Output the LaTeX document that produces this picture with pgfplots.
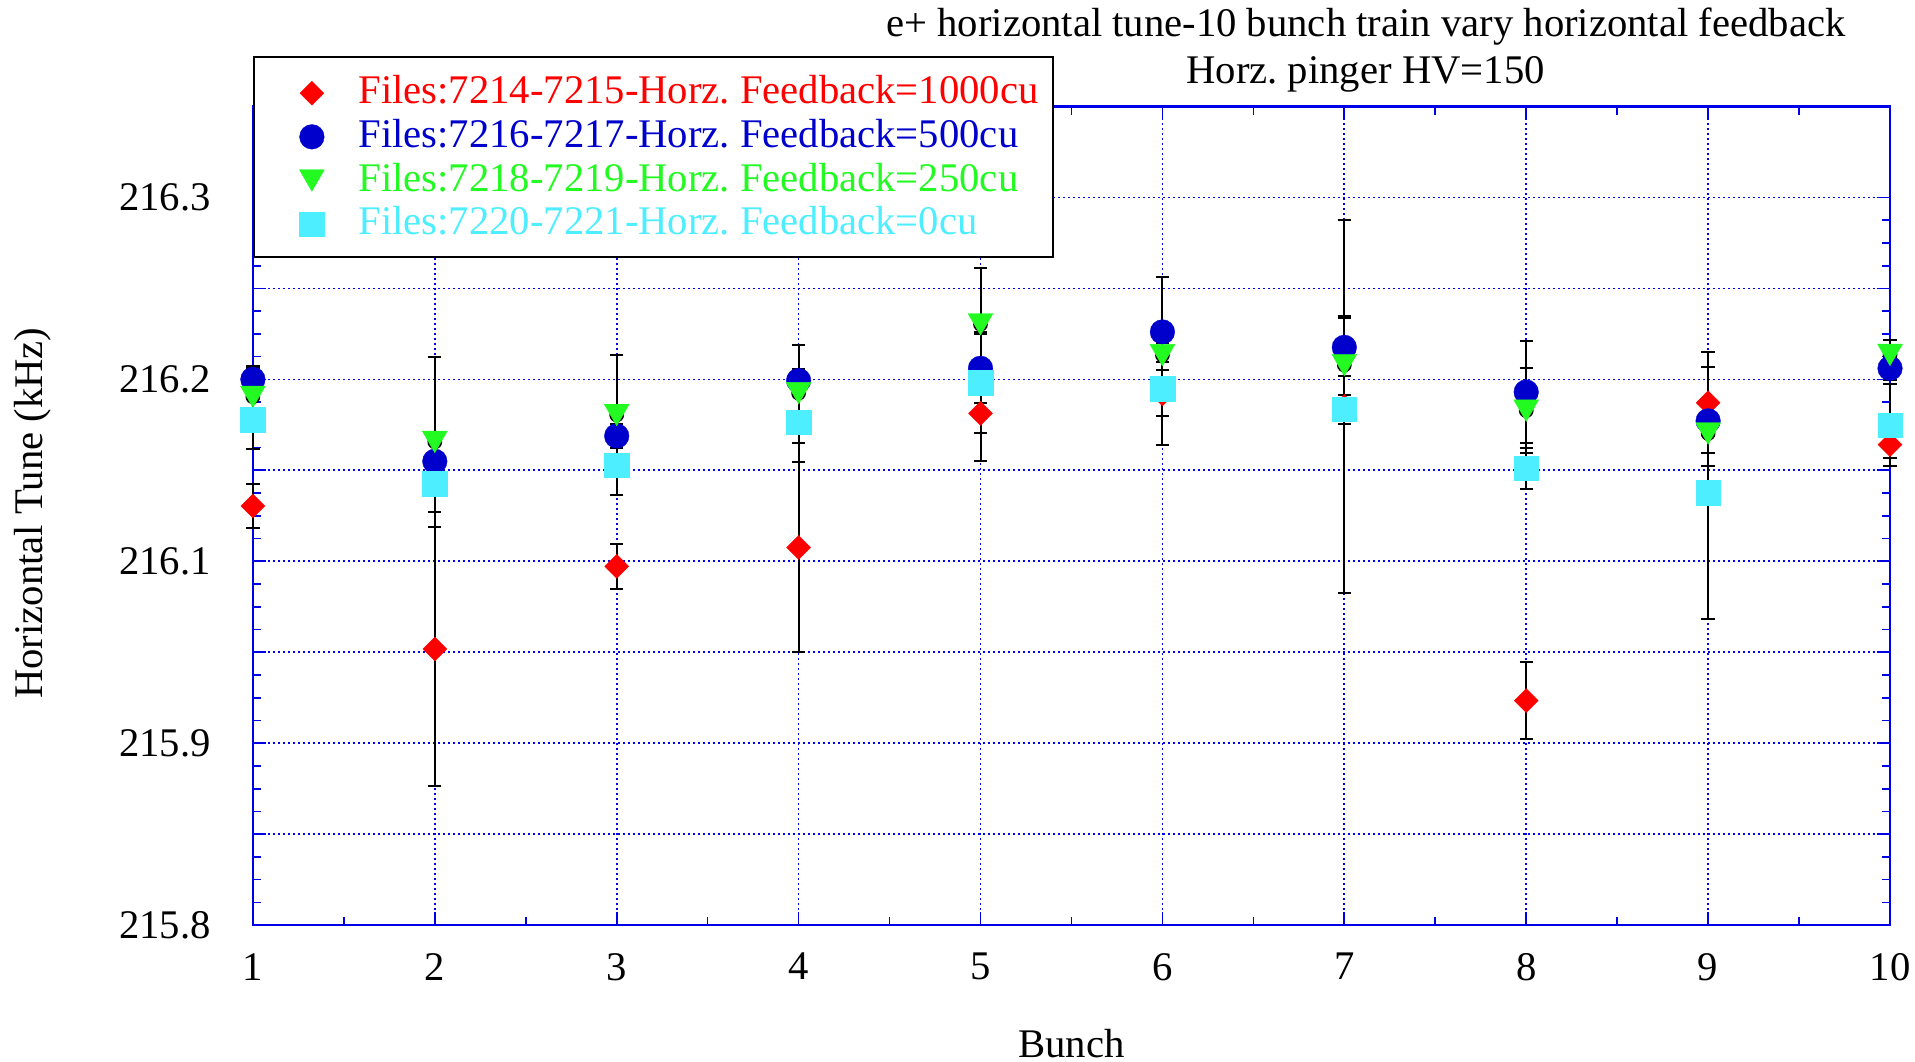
\documentclass[border=0pt]{standalone}
\usepackage{fontspec}
\setmainfont{Liberation Serif}
\usepackage{pgfplots}
\usepackage{pgfplotstable}
\pgfplotsset{compat=1.18}
\frenchspacing
\definecolor{cred}{RGB}{255,0,0}
\definecolor{cblue}{RGB}{0,0,204}
\definecolor{cgreen}{RGB}{34,250,34}
\definecolor{ccyan}{RGB}{77,238,255}
\definecolor{axblue}{RGB}{0,0,230}
\newcommand\fsz{\fontsize{12.2}{14.6}\selectfont}
\pgfdeclareplotmark{dia}{%
  \pgfpathmoveto{\pgfqpoint{0pt}{\pgfplotmarksize}}%
  \pgfpathlineto{\pgfqpoint{\pgfplotmarksize}{0pt}}%
  \pgfpathlineto{\pgfqpoint{0pt}{-\pgfplotmarksize}}%
  \pgfpathlineto{\pgfqpoint{-\pgfplotmarksize}{0pt}}%
  \pgfpathclose\pgfusepathqfillstroke}
\pgfdeclareplotmark{tridown}{%
  \pgfpathmoveto{\pgfqpoint{0pt}{-0.75\pgfplotmarksize}}%
  \pgfpathlineto{\pgfqpoint{0.866\pgfplotmarksize}{0.75\pgfplotmarksize}}%
  \pgfpathlineto{\pgfqpoint{-0.866\pgfplotmarksize}{0.75\pgfplotmarksize}}%
  \pgfpathclose\pgfusepathqfillstroke}

\pgfplotstableread{
x y e
1 216.0880 0.0152
2 215.9897 0.0940
3 216.0465 0.0154
4 216.0595 0.0716
5 216.1516 0.0326
6 216.1650 0.0353
7 216.1564 0.1281
8 215.9543 0.0265
9 216.1590 0.0345
10 216.1302 0.0090
}\redtab
\pgfplotstableread{
x y e
1 216.1750 0.0095
2 216.1187 0.0060
3 216.1361 0.0080
4 216.1742 0.0247
5 216.1826 0.0237
6 216.2076 0.0375
7 216.1970 0.0200
8 216.1663 0.0353
9 216.1465 0.0060
10 216.1826 0.0080
}\bluetab
\pgfplotstableread{
x y e
1 216.1630 0.0200
2 216.1320 0.0584
3 216.1505 0.0410
4 216.1655 0.0168
5 216.2128 0.0390
6 216.1916 0.0100
7 216.1848 0.0339
8 216.1535 0.0291
9 216.1378 0.0223
10 216.1918 0.0100
}\greentab
\pgfplotstableread{
x y e
1 216.1473 0.0199
2 216.1033 0.0060
3 216.1160 0.0206
4 216.1457 0.0278
5 216.1728 0.0345
6 216.1685 0.0185
7 216.1546 0.0100
8 216.1139 0.0141
9 216.0970 0.0864
10 216.1435 0.0280
}\cyantab

\begin{document}
\begin{tikzpicture}
\useasboundingbox (-75.87pt,-40.77pt) rectangle (498.63pt,277.53pt);
\begin{axis}[
  scale only axis,
  width=491.13pt, height=245.58pt,
  xmin=1, xmax=10,
  ymin=215.8, ymax=216.3625,
  clip=false,
  xtick={1,2,3,4,5,6,7,8,9,10},
  xticklabels={1,2,3,4,5,6,7,8,9,10},
  minor x tick num=1,
  ytick={215.8,215.8625,215.925,215.9875,216.05,216.1125,216.175,216.2375,216.3},
  yticklabels={215.8,{},215.9,{},216.1,{},216.2,{},216.3},
  minor y tick num=3,
  tick align=inside,
  major tick length=4pt,
  minor tick length=2.5pt,
  tick style={axblue, line width=0.5pt},
  axis line style={axblue, line width=0.7pt},
  grid=major,
  major grid style={axblue, line width=0.5pt, dash pattern=on 0.6pt off 0.9pt},
  tick label style={font=\fsz, text=black},
  /pgf/number format/assume math mode=true,
  yticklabel style={xshift=-9.1pt},
  xticklabel style={yshift=-4.9pt},
  legend style={at={(0,1.0615)}, anchor=north west, draw=black, line width=0.6pt, fill=white,
    inner xsep=4.4pt, inner ysep=4.6pt, row sep=1.5pt, column sep=8.75pt,
    font=\fsz,
    nodes={inner xsep=0pt, inner ysep=0pt, text height=9.4pt, text depth=2.2pt}},
  legend cell align=left,
  legend image code/.code={\path (0pt,0pt) (17.6pt,0pt); \draw[#1] plot coordinates {(12.7pt,-0.4pt)};},
  every axis plot/.append style={
    error bars/error bar style={black, line width=0.6pt},
    error bars/error mark options={black, rotate=90, mark size=2pt, line width=0.6pt}},
]
% error bars first (markers drawn on top)
\addplot[forget plot, only marks, mark=none, error bars/.cd, y dir=both, y explicit]
  table[x=x, y=y, y error=e]{\redtab};
\addplot[forget plot, only marks, mark=none, error bars/.cd, y dir=both, y explicit]
  table[x=x, y=y, y error=e]{\bluetab};
\addplot[forget plot, only marks, mark=none, error bars/.cd, y dir=both, y explicit]
  table[x=x, y=y, y error=e]{\greentab};
\addplot[forget plot, only marks, mark=none, error bars/.cd, y dir=both, y explicit]
  table[x=x, y=y, y error=e]{\cyantab};
% markers
\addplot[only marks, mark=dia, mark size=3.6pt, draw=cred, fill=cred, mark options={line width=0.1pt}]
  table[x=x, y=y]{\redtab};
\addplot[only marks, mark=*, mark size=3.7pt, draw=cblue, fill=cblue, mark options={line width=0.1pt}]
  table[x=x, y=y]{\bluetab};
\addplot[only marks, mark=tridown, mark size=4.33pt, draw=cgreen, fill=cgreen, mark options={line width=0.1pt}]
  table[x=x, y=y]{\greentab};
\addplot[only marks, mark=square*, mark size=3.7pt, draw=ccyan, fill=ccyan, mark options={line width=0.1pt}]
  table[x=x, y=y]{\cyantab};
\legend{\textcolor{cred}{Files:7214-7215-Horz. Feedback=1000cu},
        \textcolor{cblue}{Files:7216-7217-Horz. Feedback=500cu},
        \textcolor{cgreen}{Files:7218-7219-Horz. Feedback=250cu},
        \textcolor{ccyan}{Files:7220-7221-Horz. Feedback=0cu}}
\end{axis}
\node[font=\fsz, rotate=90] at (-66pt,123.6pt) {Horizontal Tune (kHz)};
\node[font=\fsz, inner sep=0pt] at (245.6pt,-35.4pt) {Bunch};
\node[font=\fsz] at (333.9pt,269.5pt) {e+ horizontal tune-10 bunch train vary horizontal feedback};
\node[font=\fsz] at (333.8pt,255.1pt) {Horz. pinger HV=150};
\end{tikzpicture}
\end{document}
